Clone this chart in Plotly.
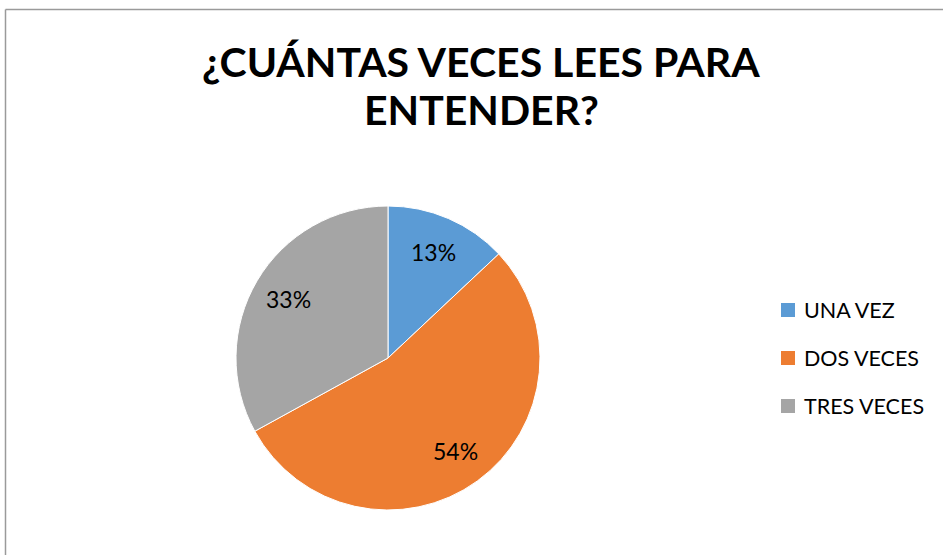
import math
import plotly.graph_objects as go

# Survey answers: how many readings are needed to understand a text
categories = ["UNA VEZ", "DOS VECES", "TRES VECES"]
shares = [13, 54, 33]
colors = ["#5B9BD5", "#ED7D31", "#A5A5A5"]
title_lines = ["¿CUÁNTAS VECES LEES PARA", "ENTENDER?"]

W, H = 943, 555
FONT = "Lato"

# pie geometry in pixels
CX, CY, R = 388, 358, 152


def px(x):
    return x / W


def py(y):
    return 1 - y / H


fig = go.Figure()
fig.add_trace(go.Pie(
    labels=categories,
    values=shares,
    marker=dict(colors=colors, line=dict(color="white", width=1)),
    sort=False,
    direction="clockwise",
    rotation=0,
    textinfo="none",
    showlegend=False,
    hoverinfo="label+percent",
    domain=dict(x=[px(CX - R), px(CX + R)], y=[py(CY + R), py(CY - R)]),
))

shapes = [
    # chart-area frame (top and left edges)
    dict(type="line", xref="paper", yref="paper", x0=px(5.5), y0=py(9.5), x1=1, y1=py(9.5),
         line=dict(color="#9a9a9a", width=1.5)),
    dict(type="line", xref="paper", yref="paper", x0=px(5.5), y0=py(9.5), x1=px(5.5), y1=0,
         line=dict(color="#9a9a9a", width=1.5)),
]
annotations = []

# two-line bold title
for line, ty in zip(title_lines, [62, 110]):
    annotations.append(dict(text=line, xref="paper", yref="paper", x=px(481), y=py(ty),
                            xanchor="center", yanchor="middle", showarrow=False,
                            font=dict(family=FONT, size=41, color="black", weight="bold")))

# percentage labels placed along each slice's mid-angle
total = sum(shares)
cum = 0
for v in shares:
    mid = (cum + v / 2) / total * 2 * math.pi
    cum += v
    lx = CX + 0.76 * R * math.sin(mid)
    ly = CY - 0.76 * R * math.cos(mid)
    annotations.append(dict(text=f"{round(100 * v / total)}%", xref="paper", yref="paper",
                            x=px(lx), y=py(ly), xanchor="center", yanchor="middle",
                            showarrow=False,
                            font=dict(family=FONT, size=23, color="black")))

# legend entries drawn as swatches with labels
row_y = [310, 358, 406]
for name, col, ry in zip(categories, colors, row_y):
    shapes.append(dict(type="rect", xref="paper", yref="paper",
                       x0=px(781), x1=px(795), y0=py(ry + 7), y1=py(ry - 7),
                       fillcolor=col, line=dict(width=0)))
    annotations.append(dict(text=name, xref="paper", yref="paper", x=px(802), y=py(ry),
                            xanchor="left", yanchor="middle", showarrow=False,
                            font=dict(family=FONT, size=21.5, color="black")))

fig.update_layout(
    width=W, height=H,
    margin=dict(l=0, r=0, t=0, b=0),
    paper_bgcolor="white",
    plot_bgcolor="white",
    shapes=shapes,
    annotations=annotations,
)

fig.write_html("out.html")
